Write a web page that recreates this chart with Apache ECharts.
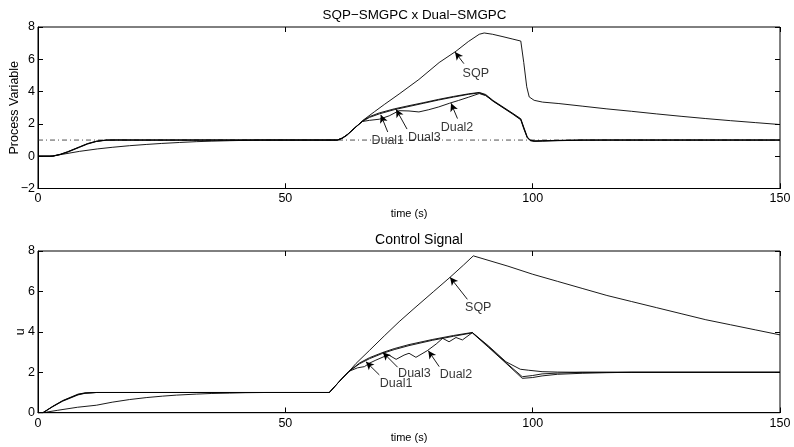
<!DOCTYPE html>
<html><head><meta charset="utf-8">
<script src="https://cdn.jsdelivr.net/npm/echarts@6/dist/echarts.min.js"></script>
<style>html,body{margin:0;padding:0;background:#fff}#c{width:794px;height:447px}</style>
</head><body><div id="c"></div>
<script>
// ---------- DATA ----------
const xTicks = [0, 50, 100, 150];
const pvTicks = [-2, 0, 2, 4, 6, 8];
const uTicks = [0, 2, 4, 6, 8];
const setpointPV = [[0, 1], [150, 1]];

const pvSQP = [[0,0],[2.4,0],[5,0.12],[8.4,0.3],[12,0.45],[15,0.55],[18.5,0.65],[22,0.73],[25,0.79],[28.6,0.85],[32,0.9],[35,0.93],[38.7,0.96],[42,0.98],[45,1.0],[60.5,1.0],[61.5,1.1],[62.5,1.3],[64,1.72],[65.6,2.2],[68,2.75],[70,3.2],[73,3.85],[77,4.75],[81.1,5.8],[84.5,6.5],[87,7.1],[89.2,7.55],[90.2,7.63],[91.9,7.55],[94,7.4],[96,7.25],[97.6,7.13],[98.2,5.8],[98.8,4.3],[99.3,3.67],[100.3,3.46],[102,3.35],[105.3,3.26],[110,3.1],[115,2.93],[120,2.78],[125,2.62],[130,2.47],[135,2.33],[140,2.2],[145,2.08],[150,1.96]];
const pvDual1 = [[0,0],[3,0],[4.5,0.1],[6,0.25],[8.4,0.55],[10,0.75],[11.8,0.91],[13.8,0.99],[16,1.01],[20,1.0],[60.5,1.0],[61.5,1.12],[62.5,1.33],[64,1.75],[65.6,2.15],[67,2.4],[69,2.62],[72,2.88],[75,3.08],[78,3.28],[81,3.48],[84,3.66],[87,3.83],[89.2,3.92],[90.5,3.78],[92,3.4],[94,3.0],[96,2.6],[97.6,2.25],[98.2,1.7],[98.9,1.15],[99.5,0.96],[100.3,0.92],[102,0.93],[105,0.96],[110,0.99],[115,1.0],[150,1.0]];
const pvDual3 = [[0,0],[3,0],[4.5,0.12],[6,0.28],[8.4,0.58],[10,0.78],[11.8,0.93],[13.8,1.0],[16,1.0],[60.5,1.0],[61.5,1.12],[62.5,1.33],[64,1.75],[65.6,2.18],[67,2.45],[69,2.68],[72,2.93],[75,3.13],[78,3.32],[81,3.52],[84,3.7],[87,3.86],[89.2,3.95],[90.5,3.82],[92,3.45],[94,3.05],[96,2.65],[97.6,2.32],[98.2,1.8],[98.9,1.2],[99.5,1.0],[100.3,0.95],[102,0.96],[105,0.98],[110,1.0],[150,1.0]];
const pvDual2 = [[0,0],[3,0],[4.5,0.11],[6,0.27],[8.4,0.57],[10,0.77],[11.8,0.92],[13.8,1.0],[60.5,1.0],[61.5,1.12],[62.5,1.33],[64,1.75],[65.6,2.15],[67,2.22],[69,2.29],[71,2.5],[73,2.82],[75,2.8],[77,2.74],[79,2.88],[81,3.05],[83.2,3.28],[85,3.45],[87,3.65],[89.2,3.88],[90.5,3.75],[92,3.42],[94,3.02],[96,2.62],[97.6,2.28],[98.2,1.75],[98.9,1.17],[99.5,0.98],[100.3,0.93],[102,0.95],[105,0.97],[110,1.0],[150,1.0]];

const uSQP = [[0,0],[1,0],[4,0.12],[8,0.27],[11.8,0.37],[15,0.52],[18.5,0.65],[22,0.75],[25.2,0.82],[28,0.87],[32,0.92],[35,0.95],[38.7,0.97],[42,0.99],[46,1.0],[58.9,1.0],[60,1.3],[61.5,1.7],[62.9,2.05],[64.3,2.44],[67,3.08],[70,3.8],[73,4.5],[76,5.15],[80,6.0],[83.3,6.7],[86,7.3],[88,7.76],[95,7.25],[100,6.85],[105,6.5],[110,6.15],[115,5.8],[120,5.5],[125,5.2],[130,4.9],[135,4.6],[140,4.35],[145,4.1],[150,3.85]];
const uDual1 = [[0,0],[1,0],[3,0.3],[5,0.57],[8.1,0.88],[9.5,0.96],[11.8,1.0],[58.9,1.0],[60,1.3],[61.5,1.7],[62.9,2.05],[65,2.42],[67,2.67],[69.7,2.94],[72,3.12],[75,3.32],[79.7,3.58],[84,3.78],[87.8,3.95],[91,3.25],[94.6,2.45],[97.9,1.7],[100,1.74],[101.9,1.82],[105,1.9],[110,1.95],[115,1.98],[120,2.0],[150,2.0]];
const uDual3 = [[0,0],[1,0],[3,0.31],[5,0.59],[8.1,0.9],[9.5,0.97],[11.8,1.0],[58.9,1.0],[60,1.3],[61.5,1.7],[62.9,2.05],[65,2.46],[67,2.72],[69.7,2.98],[72,3.17],[75,3.37],[79.7,3.62],[84,3.82],[87.8,3.97],[91,3.28],[94.6,2.48],[97.9,1.78],[100,1.84],[101.9,1.92],[105,1.96],[110,2.0],[150,2.0]];
const uDual2 = [[0,0],[1,0],[3,0.32],[5,0.6],[8.1,0.92],[9.5,0.98],[11.8,1.0],[58.9,1.0],[60,1.3],[61.5,1.7],[62.9,2.05],[64.6,2.22],[66,2.28],[67,2.45],[68.3,2.6],[70,2.78],[71,2.84],[72.4,2.64],[74,2.85],[75,2.94],[76.4,2.74],[78.7,3.07],[80.5,3.4],[81.8,3.68],[83.1,3.51],[84.5,3.72],[85.8,3.6],[87.8,3.96],[91,3.32],[94.6,2.52],[97.5,2.15],[99.2,2.1],[101.9,2.03],[105,2.01],[110,2.0],[150,2.0]];

// annotations: label, text position [t,y], arrow start [t,y], arrow tip [t,y]
const annTopLabels = ['SQP', 'Dual1', 'Dual3', 'Dual2'];
const annTopText  = [[88.5,5.11],[70.7,0.95],[78.1,1.16],[84.7,1.77]];
const annTopFrom  = [[86.1,5.73],[70.7,1.5],[74.6,1.68],[84.8,2.33]];
const annTopTo    = [[84.3,6.45],[69.3,2.56],[72.4,2.9],[83.5,3.28]];
const annBotLabels = ['SQP', 'Dual1', 'Dual3', 'Dual2'];
const annBotText  = [[89.0,5.22],[72.4,1.46],[76.1,1.95],[84.5,1.9]];
const annBotFrom  = [[86.8,5.61],[69.0,1.87],[72.7,2.25],[81.1,2.28]];
const annBotTo    = [[83.3,6.7],[66.3,2.52],[69.7,2.99],[78.9,3.07]];

// ---------- CHART ----------
const FONT = '"Liberation Sans", Arial, Helvetica, sans-serif';
const BLACK = '#000';
const TICK_PX = 5;
const GRIDS = [{left: 38, right: 14, top: 27, height: 161.5}, {left: 38, right: 14, top: 251, height: 161.7}];
const PLOT_W = 794 - 38 - 14;
const chart = echarts.init(document.getElementById('c'), null, {renderer: 'canvas'});
const minus = v => String(v).replace('-', '\u2212');

function xAx(gi) {
  return {
    gridIndex: gi, type: 'value', min: 0, max: 150, interval: 50, position: 'bottom',
    axisLine: {show: true, onZero: false, lineStyle: {color: BLACK, width: 1}},
    axisTick: {show: true, inside: true, length: TICK_PX, lineStyle: {color: BLACK, width: 1}},
    axisLabel: {show: true, color: BLACK, fontSize: 12.5, fontFamily: FONT, margin: 4,
      formatter: v => xTicks.includes(v) ? minus(v) : ''},
    splitLine: {show: false},
    name: 'time (s)', nameLocation: 'middle', nameGap: 20, nameMoveOverlap: false,
    nameTextStyle: {color: BLACK, fontSize: 11, fontFamily: FONT}
  };
}
function yAx(gi, mn, mx, name, gap) {
  return {
    gridIndex: gi, type: 'value', min: mn, max: mx, interval: 2, position: 'left',
    axisLine: {show: true, onZero: false, lineStyle: {color: BLACK, width: 1}},
    axisTick: {show: true, inside: true, length: TICK_PX, lineStyle: {color: BLACK, width: 1}},
    axisLabel: {show: true, color: BLACK, fontSize: 12.5, fontFamily: FONT, margin: 3, formatter: minus},
    splitLine: {show: false},
    name: name, nameLocation: 'middle', nameGap: gap, nameMoveOverlap: false,
    nameTextStyle: {color: BLACK, fontSize: 12.5, fontFamily: FONT}
  };
}
function curve(data, gi) {
  return {type: 'line', data: data, xAxisIndex: gi, yAxisIndex: gi, showSymbol: false, symbol: 'none',
    lineStyle: {color: BLACK, width: 0.9}, silent: true, z: 3};
}
// inward frame ticks on all four sides, placed with the axes' own scales via markLine coords
function tickSeries(gi, yTicks, yMin, yMax) {
  const dx = 150 * TICK_PX / PLOT_W;
  const dy = (yMax - yMin) * TICK_PX / GRIDS[gi].height;
  const segs = [];
  xTicks.forEach(v => {
    segs.push([{coord: [v, yMin]}, {coord: [v, yMin + dy]}]);
    segs.push([{coord: [v, yMax]}, {coord: [v, yMax - dy]}]);
  });
  yTicks.forEach(v => {
    segs.push([{coord: [0, v]}, {coord: [dx, v]}]);
    segs.push([{coord: [150, v]}, {coord: [150 - dx, v]}]);
  });
  return {type: 'line', data: [], xAxisIndex: gi, yAxisIndex: gi, silent: true, z: 4,
    markLine: {silent: true, animation: false, symbol: ['none', 'none'], precision: 6,
      lineStyle: {color: BLACK, width: 1, type: 'solid'}, label: {show: false}, data: segs}};
}
function annotations(labels, txt, from, to, gi) {
  return [{
    type: 'line', data: [], xAxisIndex: gi, yAxisIndex: gi, silent: true, z: 5,
    markLine: {
      silent: true, animation: false, symbol: ['none', 'arrow'], symbolSize: [6, 8],
      lineStyle: {color: BLACK, width: 0.9, type: 'solid'}, label: {show: false},
      data: labels.map((l, i) => [{coord: from[i]}, {coord: to[i]}])
    }
  }, {
    type: 'scatter', xAxisIndex: gi, yAxisIndex: gi, symbolSize: 0, silent: true, z: 6,
    itemStyle: {color: BLACK},
    data: labels.map((l, i) => ({value: txt[i], name: l})),
    label: {show: true, position: 'inside', formatter: p => p.name, color: BLACK,
      textBorderWidth: 0, textShadowBlur: 0, fontSize: 12.5, fontFamily: FONT}
  }];
}
const gridOf = g => Object.assign({show: true, borderColor: BLACK, borderWidth: 1,
  backgroundColor: 'transparent', containLabel: false, outerBoundsMode: 'none'}, g);

const option = {
  animation: false,
  backgroundColor: '#fff',
  title: [
    {text: 'SQP\u2212SMGPC x Dual\u2212SMGPC', left: 409.5, top: 4, textAlign: 'center',
      textStyle: {color: BLACK, fontSize: 13.4, fontWeight: 'normal', fontFamily: FONT}},
    {text: 'Control Signal', left: 414, top: 228, textAlign: 'center',
      textStyle: {color: BLACK, fontSize: 14, fontWeight: 'normal', fontFamily: FONT}}
  ],
  grid: [gridOf(GRIDS[0]), gridOf(GRIDS[1])],
  xAxis: [xAx(0), xAx(1)],
  yAxis: [yAx(0, -2, 8, 'Process Variable', 17), yAx(1, 0, 8, 'u', 11)],
  series: [
    {type: 'line', data: setpointPV, xAxisIndex: 0, yAxisIndex: 0, showSymbol: false, symbol: 'none', silent: true, z: 2,
      lineStyle: {color: '#222', width: 0.8, type: [5, 3, 1, 3]}},
    curve(pvSQP, 0), curve(pvDual1, 0), curve(pvDual3, 0), curve(pvDual2, 0),
    curve(uSQP, 1), curve(uDual1, 1), curve(uDual3, 1), curve(uDual2, 1),
    tickSeries(0, pvTicks, -2, 8), tickSeries(1, uTicks, 0, 8),
    ...annotations(annTopLabels, annTopText, annTopFrom, annTopTo, 0),
    ...annotations(annBotLabels, annBotText, annBotFrom, annBotTo, 1)
  ]
};
chart.setOption(option);
</script>
</body></html>
